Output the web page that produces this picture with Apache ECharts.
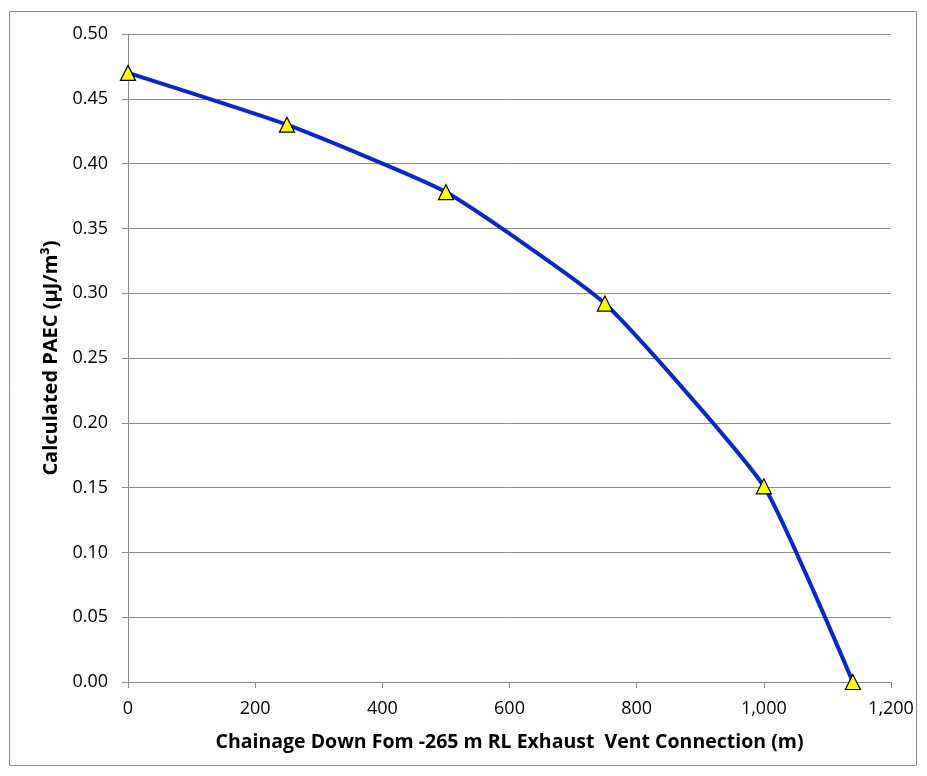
<!DOCTYPE html>
<html><head><meta charset="utf-8">
<script src="https://cdn.jsdelivr.net/npm/echarts@6/dist/echarts.min.js"></script>
<style>html,body{margin:0;padding:0;background:#fff}#c{width:927px;height:776px}</style>
</head><body><div id="c"></div>
<script>
const chainage = [0, 250, 500, 750, 1000, 1140];
const paec = [0.470, 0.430, 0.378, 0.292, 0.151, 0.000];
const xTitle = 'Chainage Down Fom -265 m RL Exhaust  Vent Connection (m)';
const yTitle = 'Calculated PAEC (\u03bcJ/m\u00b3)';

const chart = echarts.init(document.getElementById('c'), null, {renderer: 'canvas'});
const font = 'Open Sans';
chart.setOption({
  animation: false,
  backgroundColor: '#fff',
  graphic: [{type: 'rect', shape: {x: 9.5, y: 11.5, width: 907, height: 754}, style: {fill: 'none', stroke: '#8c8c8c', lineWidth: 1}, silent: true}],
  grid: {left: 128, right: 36, top: 34, bottom: 94, containLabel: false},
  xAxis: {
    type: 'value', min: 0, max: 1200, interval: 200,
    name: xTitle, nameLocation: 'middle', nameGap: 50,
    nameTextStyle: {fontFamily: font, fontWeight: 'bold', fontSize: 19.5, color: '#000'},
    axisLine: {show: true, lineStyle: {color: '#888', width: 1}},
    axisTick: {show: true, length: 6, inside: false, lineStyle: {color: '#888'}},
    axisLabel: {fontFamily: font, fontSize: 18, color: '#000', margin: 18,
      formatter: v => v.toLocaleString('en-US')},
    splitLine: {show: false}
  },
  yAxis: {
    type: 'value', min: 0, max: 0.5, interval: 0.05,
    name: yTitle, nameLocation: 'middle', nameGap: 65, nameRotate: 90,
    nameTextStyle: {fontFamily: font, fontWeight: 'bold', fontSize: 20, color: '#000'},
    axisLine: {show: true, lineStyle: {color: '#888', width: 1}},
    axisTick: {show: true, length: 6, lineStyle: {color: '#888'}},
    axisLabel: {fontFamily: font, fontSize: 18, color: '#000', margin: 20,
      formatter: v => v.toFixed(2)},
    splitLine: {show: true, lineStyle: {color: '#8c8c8c', width: 1}}
  },
  series: [{
    type: 'line',
    data: chainage.map((x, i) => [x, paec[i]]),
    smooth: 0.15,
    lineStyle: {color: '#0a28c8', width: 4},
    symbol: 'triangle', symbolSize: 15,
    itemStyle: {color: '#ffff00', borderColor: '#000', borderWidth: 1.2},
    z: 3
  }]
});
</script></body></html>
